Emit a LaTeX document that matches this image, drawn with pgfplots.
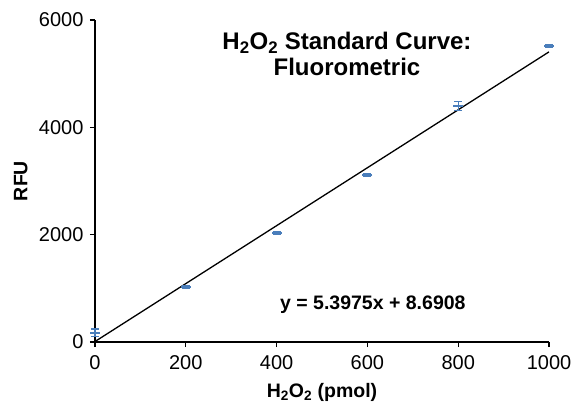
\documentclass[border=0pt]{standalone}
\usepackage{fontspec}
\setmainfont{Liberation Sans}
\usepackage{pgfplots}
\pgfplotsset{compat=1.18}
\definecolor{ptblue}{HTML}{4A7EBB}
\begin{document}
\begin{tikzpicture}[x=1pt,y=1pt]
\useasboundingbox (-95,-67) rectangle (477,342);
\begin{axis}[
  at={(0,0)}, anchor=south west,
  scale only axis, width=454pt, height=322pt,
  xmin=0, xmax=1000, ymin=0, ymax=6000,
  axis lines=left,
  axis line style={-, line width=1.5pt},
  tick align=outside,
  major tick length=5pt,
  tick style={line width=1.3pt, black},
  xtick={0,200,400,600,800,1000},
  ytick={0,2000,4000,6000},
  /pgf/number format/assume math mode=true,
  /pgf/number format/set thousands separator={},
  ticklabel style={font=\fontsize{20}{23}\selectfont},
  xticklabel style={yshift=-5pt},
  yticklabel style={xshift=-3pt},
  xlabel={\textbf{H\textsubscript{2}O\textsubscript{2} (pmol)}},
  ylabel={\textbf{RFU}},
  label style={font=\fontsize{19.5}{22}\selectfont},
  xlabel style={at={(axis description cs:0.5,0)}, anchor=north, yshift=-38pt},
  ylabel style={at={(axis description cs:0,0.5)}, anchor=south, yshift=64pt},
  clip=false,
]
\addplot[black, line width=1.3pt, no marks] coordinates {(0,8.6908) (1000,5406.19)};
\addplot[ptblue, only marks, mark=-, mark size=5pt, line width=1.6pt,
  error bars/.cd, y dir=both, y explicit, error mark options={rotate=90, mark size=4pt, line width=1.3pt, ptblue},
  error bar style={line width=1.3pt, ptblue}]
  coordinates {
  (0,170) +- (0,70)
  (200,1025) +- (0,25)
  (400,2035) +- (0,20)
  (600,3110) +- (0,30)
  (800,4400) +- (0,80)
  (1000,5515) +- (0,30)
  };
\node[font=\bfseries\fontsize{24}{26}\selectfont, align=center] at (axis cs:555,5360) {H\textsubscript{2}O\textsubscript{2} Standard Curve:\\Fluorometric};
\node[font=\bfseries\fontsize{19.5}{22}\selectfont] at (axis cs:612,690) {y = 5.3975x + 8.6908};
\end{axis}
\end{tikzpicture}
\end{document}
